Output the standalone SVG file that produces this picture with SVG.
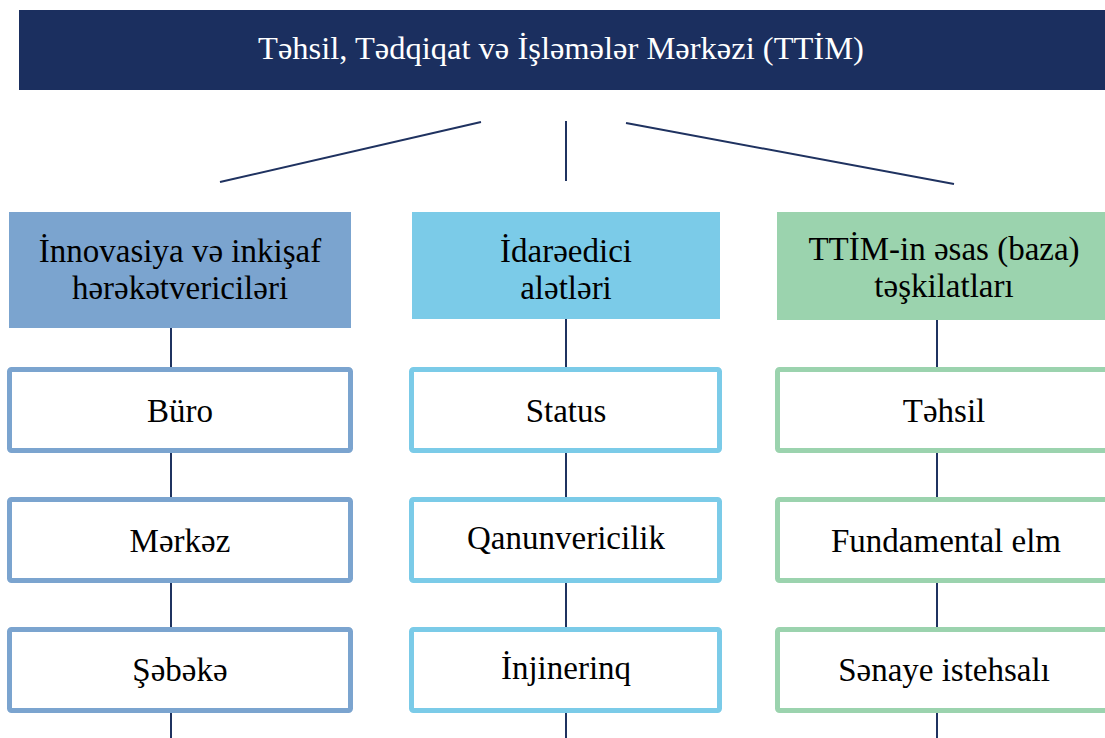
<svg xmlns="http://www.w3.org/2000/svg" width="1105" height="738" viewBox="0 0 1105 738">
<style>
.t{font-family:"Liberation Serif","Times New Roman",serif;font-size:33px;fill:#000;text-anchor:middle}
.h{font-family:"Liberation Serif","Times New Roman",serif;font-size:32.5px;fill:#fff;text-anchor:middle}
.c{stroke:#1F3260;stroke-width:2;fill:none}
.b1{fill:#fff;stroke:#7BA4CF;stroke-width:5}
.b2{fill:#fff;stroke:#7BCBE8;stroke-width:5}
.b3{fill:#fff;stroke:#9BD3AE;stroke-width:5}
</style>
<rect width="1105" height="738" fill="#fff"/>
<g id="connectors">
<line class="c" x1="220" y1="182" x2="481" y2="122"/>
<line class="c" x1="566" y1="121" x2="566" y2="181"/>
<line class="c" x1="626" y1="123" x2="954" y2="184"/>
<line class="c" x1="171" y1="328" x2="171" y2="367"/>
<line class="c" x1="171" y1="453" x2="171" y2="497"/>
<line class="c" x1="171" y1="583" x2="171" y2="627"/>
<line class="c" x1="171" y1="713" x2="171" y2="738"/>
<line class="c" x1="566" y1="319" x2="566" y2="367"/>
<line class="c" x1="566" y1="453" x2="566" y2="497"/>
<line class="c" x1="566" y1="583" x2="566" y2="627"/>
<line class="c" x1="566" y1="713" x2="566" y2="738"/>
<line class="c" x1="937" y1="320" x2="937" y2="367"/>
<line class="c" x1="937" y1="453" x2="937" y2="497"/>
<line class="c" x1="937" y1="583" x2="937" y2="627"/>
<line class="c" x1="937" y1="713" x2="937" y2="738"/>
</g>
<g id="header">
<rect x="19" y="10" width="1090" height="80" fill="#1B2F5F"/>
<text class="h" x="561" y="59">Təhsil, Tədqiqat və İşləmələr Mərkəzi (TTİM)</text>
</g>
<g id="cat1">
<rect x="9" y="212" width="342" height="116" fill="#7BA4CF"/>
<text class="t" x="180" y="262">İnnovasiya və inkişaf</text>
<text class="t" x="180" y="299">hərəkətvericiləri</text>
</g>
<g id="cat2">
<rect x="412" y="212" width="308" height="107" fill="#7BCBE8"/>
<text class="t" x="566" y="262">İdarəedici</text>
<text class="t" x="566" y="299">alətləri</text>
</g>
<g id="cat3">
<rect x="777" y="212" width="335" height="108" fill="#9BD3AE"/>
<text class="t" x="944" y="260">TTİM-in əsas (baza)</text>
<text class="t" x="944" y="297">təşkilatları</text>
</g>
<g id="buro"><rect class="b1" x="9.5" y="369.5" width="341" height="81" rx="2"/><text class="t" x="180" y="422">Büro</text></g>
<g id="merkez"><rect class="b1" x="9.5" y="499.5" width="341" height="81" rx="2"/><text class="t" x="180" y="552">Mərkəz</text></g>
<g id="sebeke"><rect class="b1" x="9.5" y="629.5" width="341" height="81" rx="2"/><text class="t" x="180" y="681">Şəbəkə</text></g>
<g id="status"><rect class="b2" x="411.5" y="369.5" width="308" height="81" rx="2"/><text class="t" x="566" y="422">Status</text></g>
<g id="qanun"><rect class="b2" x="411.5" y="499.5" width="308" height="81" rx="2"/><text class="t" x="566" y="549">Qanunvericilik</text></g>
<g id="injinerinq"><rect class="b2" x="411.5" y="629.5" width="308" height="81" rx="2"/><text class="t" x="566" y="679">İnjinerinq</text></g>
<g id="tehsil"><rect class="b3" x="777.5" y="369.5" width="335" height="81" rx="2"/><text class="t" x="944" y="422">Təhsil</text></g>
<g id="fundamental"><rect class="b3" x="777.5" y="499.5" width="335" height="81" rx="2"/><text class="t" x="946" y="552">Fundamental elm</text></g>
<g id="senaye"><rect class="b3" x="777.5" y="629.5" width="335" height="81" rx="2"/><text class="t" x="944" y="681">Sənaye istehsalı</text></g>
</svg>
